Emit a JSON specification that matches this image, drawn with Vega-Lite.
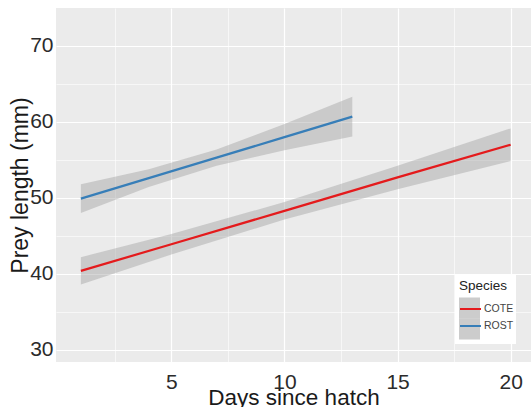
{
  "$schema": "https://vega.github.io/schema/vega-lite/v6.json",
  "width": 475,
  "height": 354,
  "autosize": "none",
  "padding": {"left": 56, "top": 8, "right": 0, "bottom": 45},
  "background": "white",
  "config": {
    "view": {"fill": "#EBEBEB", "stroke": null},
    "font": "Liberation Sans",
    "axis": {"domain": false, "ticks": false, "gridColor": "white"}
  },
  "data": {
    "values": [
      {"Species": "COTE", "day": 1, "fit": 40.4, "lower": 38.6, "upper": 42.2},
      {"Species": "COTE", "day": 5, "fit": 43.9, "lower": 42.55, "upper": 45.25},
      {"Species": "COTE", "day": 10, "fit": 48.3, "lower": 47.15, "upper": 49.45},
      {"Species": "COTE", "day": 15, "fit": 52.7, "lower": 51.15, "upper": 54.25},
      {"Species": "COTE", "day": 20, "fit": 57.0, "lower": 54.85, "upper": 59.15},
      {"Species": "ROST", "day": 1, "fit": 49.9, "lower": 48.0, "upper": 51.8},
      {"Species": "ROST", "day": 4, "fit": 52.6, "lower": 51.43, "upper": 53.77},
      {"Species": "ROST", "day": 7, "fit": 55.3, "lower": 54.22, "upper": 56.38},
      {"Species": "ROST", "day": 10, "fit": 58.0, "lower": 56.27, "upper": 59.73},
      {"Species": "ROST", "day": 13, "fit": 60.7, "lower": 58.08, "upper": 63.32}
    ]
  },
  "resolve": {"axis": {"x": "independent", "y": "independent"}},
  "layer": [
    {
      "mark": {"type": "area", "opacity": 0.4},
      "encoding": {
        "x": {
          "field": "day", "type": "quantitative",
          "scale": {"domain": [-0.1, 20.9], "nice": false, "zero": false},
          "axis": {
            "values": [5, 10, 15, 20], "grid": true, "gridWidth": 1.2,
            "labelFontSize": 21, "labelColor": "#2b2b2b", "labelPadding": 9,
            "title": "Days since hatch", "titleFontSize": 22.5, "titleFontWeight": "normal",
            "titleColor": "#1a1a1a", "titlePadding": -6
          }
        },
        "y": {
          "field": "lower", "type": "quantitative",
          "scale": {"domain": [28.4, 75], "nice": false, "zero": false},
          "axis": {
            "values": [30, 40, 50, 60, 70], "grid": true, "gridWidth": 1.2,
            "labelFontSize": 21, "labelColor": "#2b2b2b", "labelPadding": 3,
            "title": "Prey length (mm)", "titleFontSize": 23, "titleFontWeight": "normal",
            "titleColor": "#1a1a1a", "titlePadding": -3
          }
        },
        "y2": {"field": "upper"},
        "fill": {
          "field": "Species", "type": "nominal",
          "scale": {"range": ["#999999", "#999999"]},
          "legend": {
            "orient": "none", "legendX": 399, "legendY": 267,
            "title": "Species", "titleFontSize": 13.5, "titleFontWeight": "normal",
            "titleOpacity": 0, "labelOpacity": 0, "labelFontSize": 10.5,
            "titlePadding": 5, "padding": 4, "rowPadding": 0, "labelOffset": 2,
            "symbolType": "square", "symbolSize": 441, "symbolOpacity": 0.5,
            "symbolStrokeWidth": 0, "fillColor": "white", "zindex": 0
          }
        }
      }
    },
    {
      "mark": {"type": "line", "strokeWidth": 2.2},
      "encoding": {
        "x": {
          "field": "day", "type": "quantitative",
          "scale": {"domain": [-0.1, 20.9], "nice": false, "zero": false},
          "axis": {
            "orient": "top", "values": [2.5, 7.5, 12.5, 17.5], "grid": true, "gridWidth": 0.6,
            "labels": false, "title": null
          }
        },
        "y": {
          "field": "fit", "type": "quantitative",
          "scale": {"domain": [28.4, 75], "nice": false, "zero": false},
          "axis": {
            "orient": "right", "values": [35, 45, 55, 65], "grid": true, "gridWidth": 0.6,
            "labels": false, "title": null
          }
        },
        "stroke": {
          "field": "Species", "type": "nominal",
          "scale": {"domain": ["COTE", "ROST"], "range": ["#E41A1C", "#377EB8"]},
          "legend": {
            "orient": "none", "legendX": 399, "legendY": 267,
            "title": "Species", "titleFontSize": 13.5, "titleFontWeight": "normal",
            "titleColor": "#222222", "labelFontSize": 10.5, "labelColor": "#444444",
            "titlePadding": 5, "padding": 4, "rowPadding": 0, "labelOffset": 2,
            "symbolType": "stroke", "symbolSize": 441, "symbolStrokeWidth": 2,
            "zindex": 1
          }
        }
      }
    }
  ]
}
